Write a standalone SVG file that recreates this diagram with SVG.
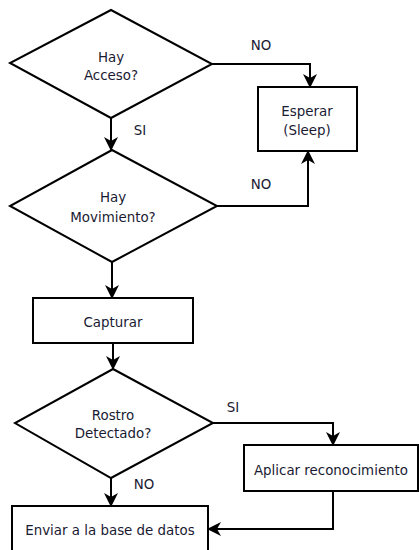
<svg xmlns="http://www.w3.org/2000/svg" width="419" height="550" viewBox="0 0 419 550">
<defs>
<style>
.shape{fill:#fff;stroke:#000;stroke-width:2}
.conn{fill:none;stroke:#000;stroke-width:2}
text{font-family:"DejaVu Sans",Verdana,sans-serif;font-size:13.4px;fill:#1a1a33;text-anchor:middle}
</style>
<marker id="arr" viewBox="0 0 14 14" refX="13" refY="7" markerWidth="14" markerHeight="14" markerUnits="userSpaceOnUse" orient="auto">
<path d="M0,0 L14,7 L0,14 L4,7 z" fill="#000"/>
</marker>
</defs>
<rect width="419" height="550" fill="#fff"/>
<g id="connectors">
<path class="conn" d="M111,118 V150" marker-end="url(#arr)"/>
<path class="conn" d="M212,64 H310 V87" marker-end="url(#arr)"/>
<path class="conn" d="M217,206 H308 V151" marker-end="url(#arr)"/>
<path class="conn" d="M112,262 V298" marker-end="url(#arr)"/>
<path class="conn" d="M113,343 V369" marker-end="url(#arr)"/>
<path class="conn" d="M111,478 V506" marker-end="url(#arr)"/>
<path class="conn" d="M213,423 H333 V445" marker-end="url(#arr)"/>
<path class="conn" d="M333,491 V529 H208" marker-end="url(#arr)"/>
<text x="261" y="50">NO</text>
<text x="261" y="189">NO</text>
<text x="140" y="135">SI</text>
<text x="233" y="412">SI</text>
<text x="144" y="489">NO</text>
</g>
<g id="acceso">
<polygon class="shape" points="111,10 212,64 111,118 10,63"/>
<text x="111" y="62">Hay</text>
<text x="111" y="80">Acceso?</text>
</g>
<g id="esperar">
<rect class="shape" x="258" y="87" width="99" height="64"/>
<text x="307" y="116">Esperar</text>
<text x="307" y="135">(Sleep)</text>
</g>
<g id="movimiento">
<polygon class="shape" points="112,150 217,206 112,262 10,206"/>
<text x="113" y="202">Hay</text>
<text x="113" y="222">Movimiento?</text>
</g>
<g id="capturar">
<rect class="shape" x="33" y="298" width="160" height="45"/>
<text x="113" y="327">Capturar</text>
</g>
<g id="rostro">
<polygon class="shape" points="113,369 213,423 111,478 15,423"/>
<text x="113" y="420">Rostro</text>
<text x="113" y="438">Detectado?</text>
</g>
<g id="aplicar">
<rect class="shape" x="244" y="445" width="174" height="46"/>
<text x="331" y="475">Aplicar reconocimiento</text>
</g>
<g id="enviar">
<rect class="shape" x="12" y="506" width="196" height="50"/>
<text x="110" y="535">Enviar a la base de datos</text>
</g>
</svg>
